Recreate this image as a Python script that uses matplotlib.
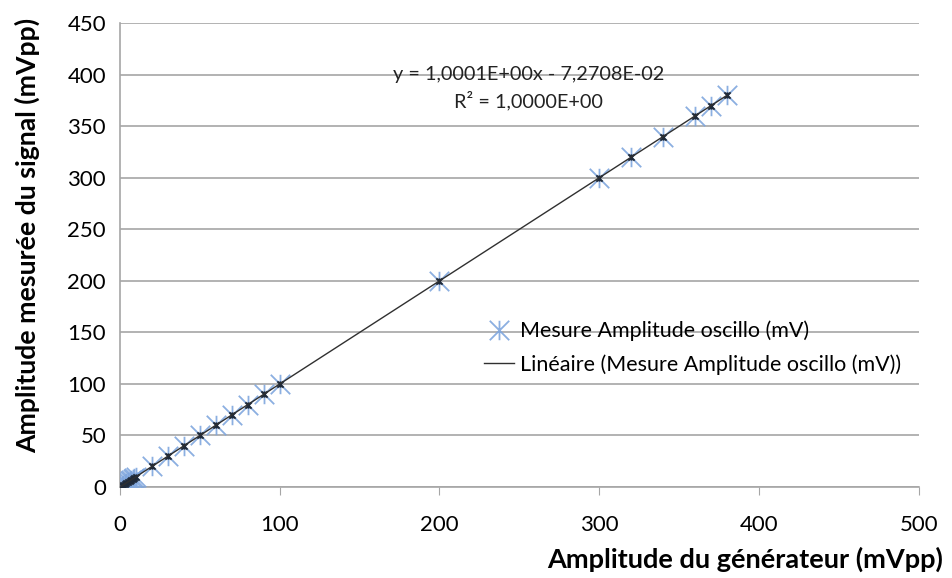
import numpy as np
import matplotlib.pyplot as plt
from matplotlib.path import Path

# Generator amplitude (mVpp) and measured oscilloscope amplitude (mV)
gen = [1, 2, 3, 4, 5, 6, 7, 8, 9, 10, 20, 30, 40, 50, 60, 70, 80, 90, 100,
       200, 300, 320, 340, 360, 370, 380]
mes = [1, 2, 3, 4, 5, 6, 7, 8, 9, 10, 20, 30, 40, 50, 60, 70, 80, 90, 100,
       200, 300, 320, 340, 360, 370, 380]

slope = 1.0001
intercept = -7.2708e-02

plt.rcParams['font.family'] = ['Lato', 'DejaVu Sans']

# Excel-style star marker: an X crossed by a vertical stroke
star = Path([(-1, -1), (1, 1), (-1, 1), (1, -1), (0, -1), (0, 1)],
            [Path.MOVETO, Path.LINETO, Path.MOVETO, Path.LINETO,
             Path.MOVETO, Path.LINETO])

fig = plt.figure(figsize=(9.52, 5.78), dpi=100)
ax = fig.add_axes([0.126, 0.1574, 0.839, 0.8026])

ax.set_xlim(0, 500)
ax.set_ylim(0, 450)
ax.set_yticks(np.arange(0, 451, 50))
ax.set_xticks(np.arange(0, 501, 100))
ax.yaxis.grid(True, color='#a6a6a6', lw=1.2)
ax.set_axisbelow(True)
for s in ['top', 'right']:
    ax.spines[s].set_visible(False)
for s in ['left', 'bottom']:
    ax.spines[s].set_color('#a6a6a6')
    ax.spines[s].set_linewidth(1.2)
ax.tick_params(axis='y', length=0, labelsize=16, pad=10)
ax.tick_params(axis='x', length=6, color='#a6a6a6', labelsize=16, pad=14)

# Measured points
ax.plot(gen, mes, linestyle='none', marker=star, markersize=14,
        markeredgecolor='#7fa6de', markeredgewidth=1.3, alpha=0.9,
        label='Mesure Amplitude oscillo (mV)', zorder=3)
ax.plot(gen, mes, linestyle='none', marker=star, markersize=4.5,
        markeredgecolor='#1f2a3a', markeredgewidth=1.4, zorder=4)

# Linear trend line
xt = np.array([0, max(gen)])
ax.plot(xt, slope * xt + intercept, color='#303030', lw=1.0,
        label='Linéaire (Mesure Amplitude oscillo (mV))', zorder=5)

ax.text(256, 400, 'y = 1,0001E+00x - 7,2708E-02', ha='center', va='center',
        fontsize=14.3, color='#222222')
ax.text(256, 375, 'R² = 1,0000E+00', ha='center', va='center',
        fontsize=14.3, color='#222222')

leg = ax.legend(loc='center left', bbox_to_anchor=(0.431, 0.30), frameon=False,
                fontsize=15.5, handlelength=1.4, handletextpad=0.3,
                labelspacing=0.6)

ax.set_xlabel('Amplitude du générateur (mVpp)', fontsize=19.5, fontweight='bold')
ax.xaxis.set_label_coords(1.030, -0.128)
ax.xaxis.label.set_ha('right')
ax.set_ylabel('Amplitude mesurée du signal (mVpp)', fontsize=19.2,
              fontweight='bold')
ax.yaxis.set_label_coords(-0.100, 0.543)

fig.savefig('out.png', dpi=100)
